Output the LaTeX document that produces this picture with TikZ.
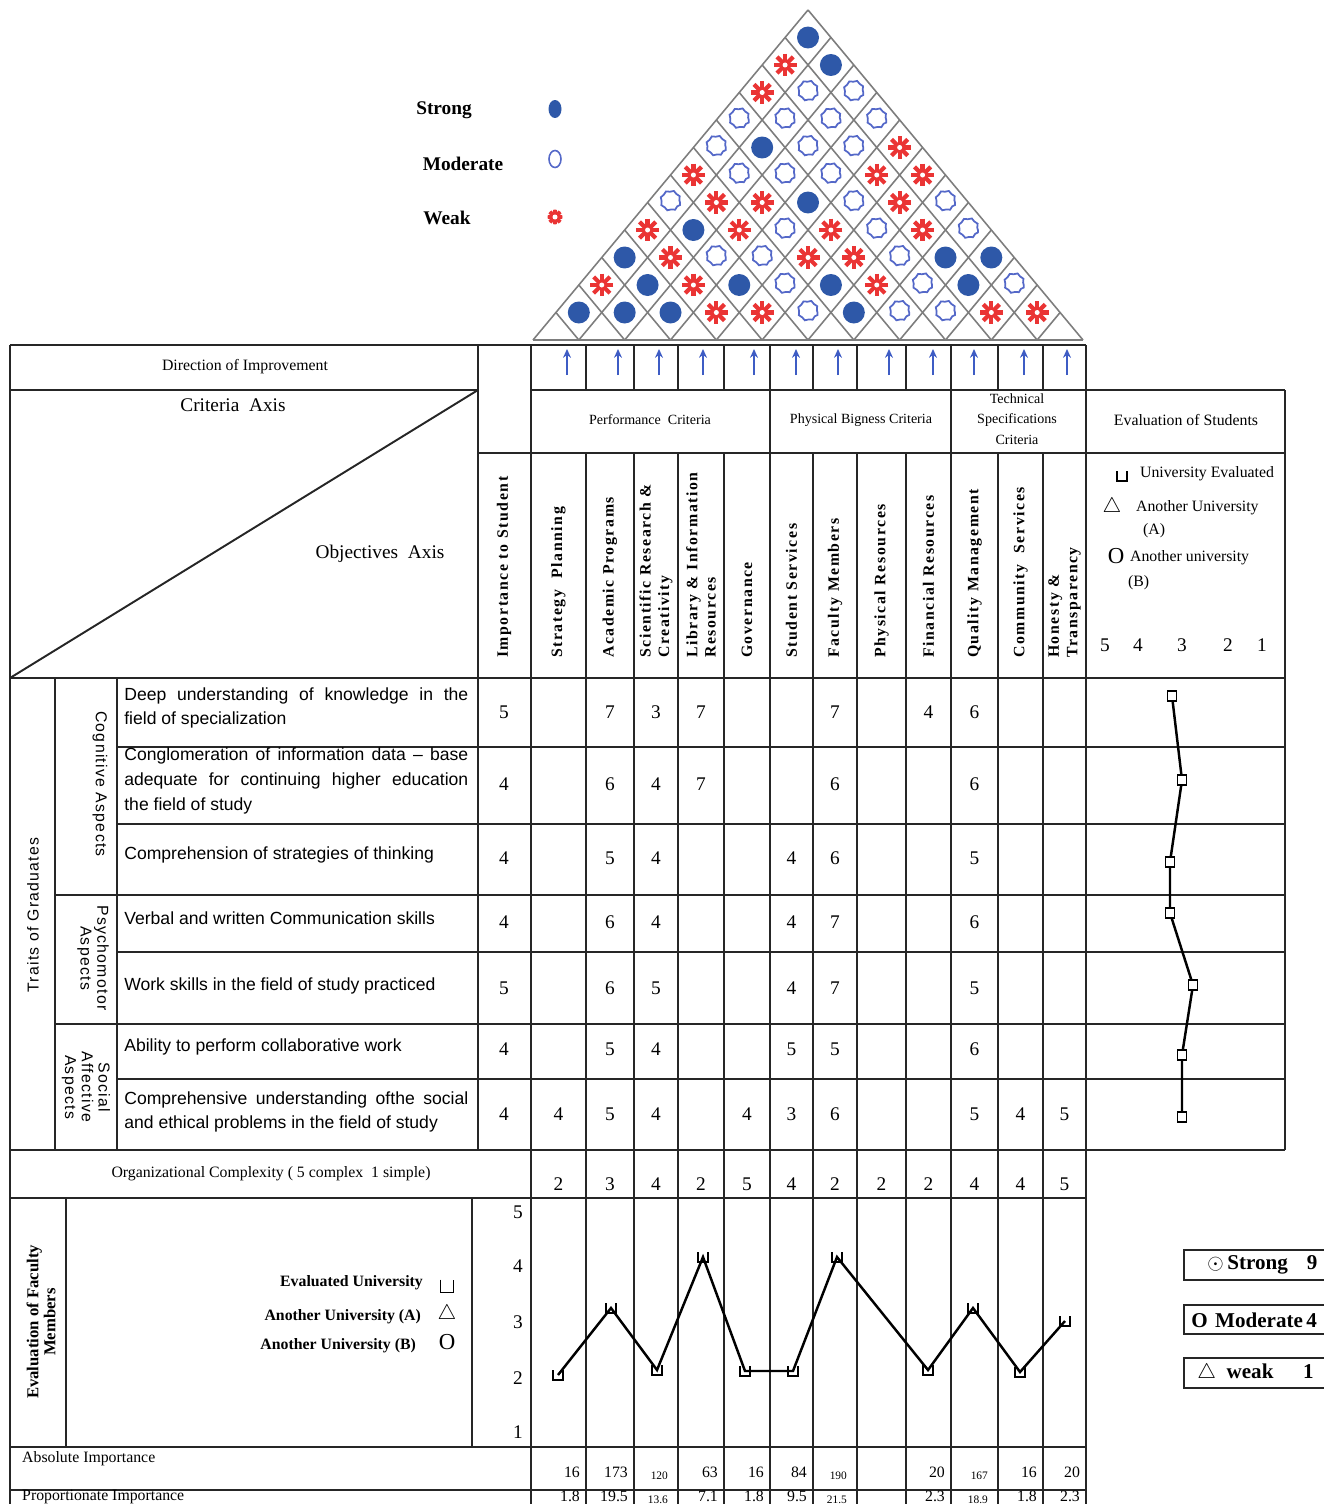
\documentclass[tikz,border=0pt]{standalone}
\usepackage{fontspec}
\setmainfont{Liberation Serif}
\setsansfont{Liberation Sans}
\newfontfamily\spacedserif[LetterSpace=10]{Liberation Serif}
\newfontfamily\spacedsans[LetterSpace=8]{Liberation Sans}
\usetikzlibrary{arrows.meta,shapes.geometric,decorations.pathmorphing}
\definecolor{strongblue}{RGB}{46,88,168}
\definecolor{modblue}{RGB}{84,104,200}
\definecolor{weakred}{RGB}{234,52,52}
\definecolor{roofgray}{RGB}{125,125,125}
\definecolor{arrowblue}{RGB}{62,92,196}
\tikzset{
  grid/.style={line width=1.1pt,black!85},
  roofline/.style={line width=0.9pt,roofgray},
  roofS/.style={circle,fill=strongblue,inner sep=0pt,minimum size=0.44cm},
  modring/.style={circle,draw=modblue,line width=1pt,inner sep=0pt,minimum size=0.38cm},
  roofM/.style={modring,decorate,decoration={snake,segment length=1.5mm,amplitude=0.13mm}},
  roofW/.style={circle,inner sep=0pt,minimum size=0.5cm,path picture={
    \foreach \a in {0,45,90,135}
      \draw[weakred,line width=2.4pt] ([shift={(\a:0.23cm)}]path picture bounding box.center) -- ([shift={(\a+180:0.23cm)}]path picture bounding box.center);
    \fill[white] (path picture bounding box.center) circle (0.05cm);}},
  dirarrow/.style={arrowblue,line width=1pt,-{Stealth[length=5pt,width=4.5pt]}},
  legtext/.style={font=\fontsize{11}{12}\selectfont\bfseries},
  smallhdr/.style={font=\fontsize{9}{10}\selectfont},
  grouphdr/.style={font=\fontsize{8}{11.5}\selectfont,align=center},
  axistext/.style={font=\fontsize{11}{12}\selectfont},
  colhead/.style={rotate=90,anchor=west,align=left,inner sep=1pt,font=\spacedserif\fontsize{9}{10.5}\selectfont\bfseries},
  sidehdr/.style={align=center,inner sep=0pt,font=\spacedsans\fontsize{9}{9.5}\selectfont},
  objtext/.style={anchor=west,inner sep=0pt,text width=6.88cm,align=justify,font=\sffamily\fontsize{10}{14}\selectfont},
  cellnum/.style={font=\fontsize{11}{12}\selectfont},
  evallabel/.style={anchor=west,inner sep=1pt,font=\fontsize{9}{10}\selectfont},
  evalmark/.style={draw,line width=0.8pt,fill=white,inner sep=0pt,minimum width=0.17cm,minimum height=0.2cm},
  faclabel/.style={anchor=east,inner sep=1pt,font=\fontsize{9}{10}\selectfont\bfseries},
  facsym/.style={inner sep=0pt,font=\fontsize{13}{13}\selectfont},
  impn/.style={anchor=east,inner sep=1pt,font=\fontsize{9}{10}\selectfont},
  imps/.style={anchor=east,inner sep=1pt,yshift=-2pt,font=\fontsize{6.5}{7}\selectfont},
  keytext/.style={anchor=west,inner sep=0pt,font=\fontsize{12}{13}\selectfont\bfseries},
  cupmark/.pic={\draw[line width=0.8pt] (-5,-5) -- (-5,5) -- (5,5) -- (5,-5);}
}
\begin{document}
\begin{tikzpicture}[x=0.02cm,y=-0.02cm]
\useasboundingbox (0,0) rectangle (1324,1504);
\foreach \x [count=\k from 0] in {504,558.5,610,656,701,747,791.5,835,881.5,928.5,974.5,1020.5,1064.5}
  \coordinate (col\k) at (\x,0);
% roof
\foreach \k in {0,...,11} \draw[roofline] (533+45.833*\k,340) -- (808+22.917*\k,10+27.5*\k);
\foreach \k in {1,...,12} \draw[roofline] (533+45.833*\k,340) -- (533+22.917*\k,340-27.5*\k);
\draw[roofline] (533,340) -- (1083,340);
\foreach \d/\row in {11/{S},10/{W,S},9/{W,M,M},8/{M,M,M,M},7/{M,S,M,M,W},6/{W,M,M,M,W,W},5/{M,W,W,S,M,W,M},4/{W,S,W,M,W,M,W,M},3/{S,W,M,M,W,W,M,S,S},2/{W,S,W,S,M,S,W,M,S,M},1/{S,S,S,W,W,M,S,M,M,W,W}}
  \foreach \s [count=\i] in \row
    \node[roof\s] (roof-\d-\i) at (533+45.833*\i-22.917+22.917*\d,340-27.5*\d) {};
\node[legtext] (keystrong) at (444,110) {Strong};
\node[legtext] (keymod) at (463,164) {Moderate};
\node[legtext] (keyweak) at (447,218) {Weak};
\node[roofS,ellipse,minimum width=0.26cm,minimum height=0.36cm] (symstrong) at (555,109) {};
\node[modring,ellipse,line width=0.9pt,minimum width=0.24cm,minimum height=0.34cm] (symmod) at (555,159) {};
\node[roofW,minimum size=0.3cm] (symweak) at (555,217) {};
\foreach \x in {567,618,659,703,754,796,838,889,933,974,1024,1067} \draw[dirarrow] (\x,375) -- (\x,349);
% table
\draw[grid] (10,345) -- (1086,345);
\draw[grid] (10,390) -- (478,390) (531,390) -- (1285,390);
\draw[grid] (478,453) -- (1285,453);
\draw[grid] (10,678) -- (1285,678);
\foreach \y in {747,824,952,1079} \draw[grid] (117,\y) -- (1285,\y);
\foreach \y in {895,1024} \draw[grid] (55,\y) -- (1285,\y);
\draw[grid] (10,1150) -- (1285,1150);
\foreach \y in {1198,1447,1490} \draw[grid] (10,\y) -- (1086,\y);
\draw[grid] (10,345) -- (10,1504);
\draw[grid] (478,345) -- (478,1150);
\draw[grid] (1285,390) -- (1285,1150);
\draw[grid] (55,678) -- (55,1150) (117,678) -- (117,1150);
\draw[grid] (66,1198) -- (66,1447) (472,1198) -- (472,1447);
\foreach \x in {586,634,678,724,813,857,906,998,1043} \draw[grid] (\x,345) -- (\x,390) (\x,453) -- (\x,1504);
\foreach \x in {531,770,951,1086} \draw[grid] (\x,345) -- (\x,1504);
\draw[grid] (10,678) -- (478,390);
% headers
\node[smallhdr] (dirimp) at (245,367) {Direction of Improvement};
\node[axistext] (critaxis) at (233,405) {Criteria\ \ Axis};
\node[axistext] (objaxis) at (380,554) {Objectives\ \ Axis};
\node[grouphdr] (perfcrit) at (650,420) {Performance\ \ Criteria};
\node[grouphdr] (physcrit) at (861,420) {Physical Bigness Criteria};
\node[grouphdr] (techcrit) at (1017,419) {Technical\\Specifications\\Criteria};
\node[smallhdr] (evalstud) at (1186,420) {Evaluation of Students};
\foreach \k/\txt in {0/Importance to Student,1/Strategy\ \ Planning,2/Academic Programs,3/{Scientific Research \&\\Creativity},4/{Library \& Information\\Resources},5/Governance,6/Student Services,7/Faculty Members,8/Physical Resources,9/Financial Resources,10/Quality Management,11/Community\ \ Services,12/{Honesty \&\\Transparency}}
  \node[colhead] (head\k) at (col\k |- 0,660) {\txt};
% objectives
\node[sidehdr,rotate=90] (traits) at (33,915) {Traits of Graduates};
\node[sidehdr,rotate=-90] (cognitive) at (100,784) {Cognitive Aspects};
\node[sidehdr,rotate=-90] (psychomotor) at (93,958) {Psychomotor\\Aspects};
\node[sidehdr,rotate=-90] (social) at (86,1087) {Social\\Affective\\Aspects};
\node[objtext] (obj1) at (124,708) {Deep understanding of knowledge in the\linebreak field of specialization};
\node[objtext] (obj2) at (124,781) {Conglomeration of information data -- base\linebreak adequate for continuing higher education\linebreak the field of study};
\node[objtext] (obj3) at (124,855) {Comprehension of strategies of thinking};
\node[objtext] (obj4) at (124,918) {Verbal and written Communication skills};
\node[objtext] (obj5) at (124,986) {Work skills in the field of study practiced};
\node[objtext] (obj6) at (124,1047) {Ability to perform collaborative work};
\node[objtext] (obj7) at (124,1112) {Comprehensive understanding ofthe social\linebreak and ethical problems in the field of study};
\foreach \y/\cells in {712/{0/5,2/7,3/3,4/7,7/7,9/4,10/6},784/{0/4,2/6,3/4,4/7,7/6,10/6},858/{0/4,2/5,3/4,6/4,7/6,10/5},922/{0/4,2/6,3/4,6/4,7/7,10/6},988/{0/5,2/6,3/5,6/4,7/7,10/5},1049/{0/4,2/5,3/4,6/5,7/5,10/6},1114/{0/4,1/4,2/5,3/4,5/4,6/3,7/6,10/5,11/4,12/5}}
  \foreach \k/\v in \cells \node[cellnum] (cell-\y-\k) at (col\k |- 0,\y) {\v};
% evaluation of students
\pic at (1122,476) {cupmark};
\node[evallabel] (leg1) at (1138,474) {University Evaluated};
\node[facsym] (tri1) at (1112,507) {$\triangle$};
\node[evallabel] (leg2) at (1134,508) {Another University};
\node[evallabel] (leg2b) at (1141,531) {(A)};
\node[facsym] (circ1) at (1116,556) {O};
\node[evallabel] (leg3) at (1128,558) {Another university};
\node[evallabel] (leg3b) at (1126,583) {(B)};
\foreach \v/\x in {5/1105,4/1138,3/1182,2/1228,1/1262} \node[cellnum] (scale-\v) at (\x,645) {\v};
\foreach \x/\y [count=\i] in {1172/696,1182/780,1170/862,1170/913,1193/985,1182/1055,1182/1117}
  \coordinate (s\i) at (\x,\y);
\draw[line width=1.4pt] (s1) -- (s2) -- (s3) -- (s4) -- (s5) -- (s6) -- (s7);
\foreach \i in {1,...,7} \node[evalmark] (smark\i) at (s\i) {};
% complexity and faculty
\node[smallhdr] (orgcx) at (271,1174) {Organizational Complexity ( 5 complex\ \ 1 simple)};
\foreach \v [count=\k] in {2,3,4,2,5,4,2,2,2,4,4,5} \node[cellnum] (cx\k) at (col\k |- 0,1184) {\v};
\node[font=\fontsize{9.5}{9.7}\selectfont\bfseries,align=center,rotate=90] (evalfac) at (41,1322) {Evaluation of Faculty\\Members};
\node[faclabel] (fleg1) at (425,1283) {Evaluated University};
\pic[scale=1.3] at (447,1286) {cupmark};
\node[faclabel] (fleg2) at (423,1317) {Another University (A)};
\node[facsym] (ftri) at (447,1314) {$\triangle$};
\node[faclabel] (fleg3) at (418,1346) {Another University (B)};
\node[facsym] (fcirc) at (447,1342) {O};
\foreach \v/\y in {5/1212,4/1266,3/1322,2/1378,1/1432} \node[cellnum] (fscale\v) at (518,\y) {\v};
\foreach \x/\y [count=\i] in {558/1375,611/1308,657/1370,703/1257,745/1371,793/1371,837/1257,928/1370,973/1308,1020/1372,1065/1321}
  \coordinate (f\i) at (\x,\y);
\draw[line width=1.4pt] (f1) -- (f2) -- (f3) -- (f4) -- (f5) -- (f6) -- (f7) -- (f8) -- (f9) -- (f10) -- (f11);
\foreach \i in {1,...,11} \pic at (f\i) {cupmark};
% importance rows
\node[smallhdr,anchor=west] (absimp) at (16,1459) {Absolute Importance};
\node[smallhdr,anchor=west] (propimp) at (16,1497) {Proportionate Importance};
\foreach \x/\a/\p/\f in {582/16/1.8/n,630/173/19.5/n,670/120/13.6/s,720/63/7.1/n,766/16/1.8/n,809/84/9.5/n,849/190/21.5/s,947/20/2.3/n,990/167/18.9/s,1039/16/1.8/n,1082/20/2.3/n}
  {\node[imp\f] (abs\x) at (\x,1472) {\a}; \node[imp\f] (prop\x) at (\x,1496) {\p};}
% key
\draw[grid] (1184,1250) rectangle (1340,1280);
\draw[grid] (1184,1305) rectangle (1340,1334);
\draw[grid] (1184,1358) rectangle (1340,1388);
\node[keytext] (keyS) at (1207,1265) {$\odot$\,Strong\hspace{0.9em}9};
\node[keytext] (keyM) at (1191,1320) {O\hspace{0.35em}Moderate\,4};
\node[keytext] (keyW) at (1197,1373) {$\triangle$\hspace{0.5em}weak\hspace{1.4em}1};
\end{tikzpicture}
\end{document}
